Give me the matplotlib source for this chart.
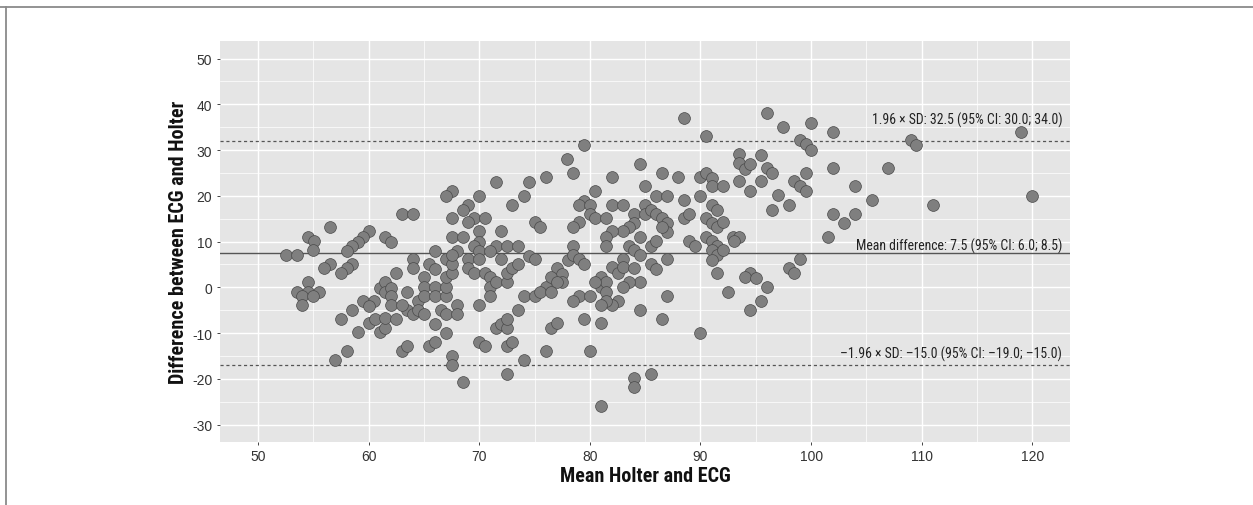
import matplotlib
matplotlib.use("Agg")
import matplotlib.pyplot as plt
from matplotlib import font_manager
from matplotlib.font_manager import FontProperties
from matplotlib.lines import Line2D

plt.rcParams["axes.unicode_minus"] = False

# ---------------- data ----------------
mean_vals = [
    63.0, 64.0, 56.5, 54.5, 55.1, 55.0, 52.5, 53.5, 60.0, 59.5, 59.0, 58.5, 58.0, 61.5, 62.0,
    56.5, 56.0, 58.5, 58.0, 57.5, 62.5, 54.5, 53.5, 54.5, 55.5, 54.0, 55.0, 54.0,
    59.5, 60.5, 60.0, 58.5, 57.5, 59.0, 60.0, 60.6, 61.0, 61.5, 61.5, 62.5, 58.0, 57.0, 63.0, 63.5,
    61.0, 61.5, 61.5, 62.0, 62.0, 62.0, 63.5, 63.5, 63.0, 64.0, 64.0, 64.0, 64.5, 64.5,
    65.0, 65.0, 65.0, 65.0, 65.5, 65.5, 66.0, 66.0, 66.0, 66.0, 66.0, 66.0, 66.5,
    67.0, 67.0, 67.0, 67.0, 67.0, 67.0, 67.5, 67.5, 67.5, 67.5, 68.0, 68.0, 68.5, 68.0,
    69.0, 69.0, 69.5, 70.0, 70.0, 70.5, 70.5, 71.0, 71.0, 71.0, 71.5, 71.5, 72.0, 72.5,
    72.5, 72.5, 73.0, 72.5, 72.5, 72.5, 73.0, 73.5, 74.0, 74.0, 73.5, 74.5, 75.0, 75.0,
    76.0, 76.0, 75.5, 76.5, 67.5,
    77.9, 76.0, 74.5, 71.5, 67.5, 67.0, 70.0, 74.0, 69.0, 68.5, 73.0, 67.5, 69.5, 70.5,
    69.0, 75.0, 75.5, 67.5, 68.5, 70.0, 72.0, 70.0, 69.5, 71.5, 72.5, 73.5, 70.0, 71.0,
    70.0, 72.0, 77.0, 77.5, 77.5, 78.0, 76.5, 77.0, 76.5, 77.0,
    88.5, 90.5, 79.5, 78.5, 84.5, 82.0, 86.5, 88.0, 90.0, 90.5, 91.0, 91.0, 92.0, 85.0,
    80.5, 86.0, 87.0, 90.0, 79.5, 79.0, 80.0, 82.0, 83.0, 85.0, 88.5, 91.0, 91.5, 80.0,
    80.5, 81.5, 84.0, 85.0, 85.5, 86.0, 86.5, 87.0, 87.0, 86.5, 88.5, 89.0, 90.5, 91.0,
    91.5, 92.0, 79.0, 78.5, 84.0, 83.5, 83.0, 82.0, 81.5, 81.5, 84.5, 85.5, 86.0, 83.5,
    84.0, 84.5, 83.0, 87.0, 85.5, 86.0, 82.0, 82.5, 83.0, 84.0, 84.5, 83.5, 83.0, 81.0,
    81.0, 81.5, 80.5, 81.5, 82.5, 82.0, 81.5, 81.0, 84.5, 87.0, 86.5, 90.0, 79.5, 81.0,
    80.0, 79.0, 78.5, 80.0, 85.5, 84.0, 84.0, 81.0, 78.5, 78.5, 79.0, 79.5,
    90.5, 91.0, 91.5, 91.0, 91.5, 92.0, 91.0, 91.5, 89.0, 89.5,
    96.0, 97.5, 100.0, 102.0, 99.0, 99.5, 100.0, 93.5, 95.5, 93.5, 94.0, 94.5, 96.0, 96.5,
    99.5, 102.0, 107.0, 93.5, 95.5, 98.5, 99.0, 99.5, 94.5, 104.0, 97.0, 98.0, 96.5, 105.5,
    102.0, 104.0, 103.0, 101.5, 92.9, 93.5, 93.0, 99.0, 98.0, 98.5, 94.5, 94.0, 95.0,
    92.5, 96.0, 95.5, 94.5,
    109.0, 109.5, 119.0, 120.0, 111.0,
]
diff_vals = [
    16.0, 16.0, 13.1, 11.1, 10.2, 8.1, 7.0, 7.0, 12.2, 11.1, 10.0, 9.0, 8.0, 11.1, 10.0,
    5.2, 4.2, 5.1, 4.2, 3.1, 3.1, 1.1, -1.0, -1.0, -1.0, -1.9, -1.9, -3.9,
    -2.9, -2.9, -4.0, -4.9, -6.9, -9.8, -7.9, -6.9, -9.8, -8.9, -6.8, -6.9, -13.9, -15.8, -13.9, -12.8,
    -0.2, 1.1, -1.1, -0.2, -1.8, -3.9, -1.0, -5.0, -3.9, 6.2, 4.2, -5.9, -2.9, -4.9,
    2.2, 0.0, -1.8, -5.9, 5.1, -12.8, -11.9, -8.0, 0.0, -1.8, 4.0, 8.0, -5.0,
    -10.0, -5.8, -1.8, 0.1, 2.2, 6.2, 3.1, 5.1, -15.0, -16.9, -3.9, -5.9, -20.8, 8.0,
    6.2, 4.2, 3.1, -3.9, -12.0, -12.9, 3.1, 2.2, 0.0, -1.8, 1.1, -8.9, -8.0, -8.9,
    -6.9, -12.8, -11.9, -19.0, 1.1, 3.1, 4.2, -5.0, -15.8, -1.8, 5.1, 6.9, 6.2, -1.8,
    -13.9, 0.0, -1.0, -8.9, 7.0,
    28.0, 24.2, 23.1, 23.1, 21.1, 20.0, 20.0, 20.0, 18.1, 17.0, 18.1, 15.1, 15.1, 15.1,
    14.2, 14.2, 13.1, 11.1, 11.1, 12.2, 12.2, 10.0, 9.0, 9.1, 9.1, 9.1, 8.0, 8.0,
    6.2, 6.2, 4.2, 2.9, 1.2, 5.9, 2.2, 1.2, -1.0, -7.8,
    37.0, 33.1, 31.1, 25.0, 27.0, 24.2, 25.0, 24.2, 24.2, 25.0, 24.0, 22.1, 22.1, 22.1,
    21.0, 20.0, 20.0, 20.0, 18.9, 18.0, 18.0, 18.0, 18.0, 18.0, 19.1, 18.0, 17.0, 16.0,
    15.1, 15.1, 16.0, 16.0, 17.0, 16.0, 15.1, 14.0, 12.0, 13.1, 15.1, 16.0, 15.1, 14.0,
    13.1, 14.2, 14.2, 13.1, 14.0, 13.1, 12.2, 12.2, 11.1, 9.1, 11.1, 9.1, 10.2, 9.1,
    8.2, 7.1, 6.2, 6.2, 5.1, 4.0, 4.4, 3.1, 4.4, 4.2, 1.1, 1.1, 0.0, 2.2,
    0.0, 1.1, 1.1, -1.1, -2.9, -3.9, -2.9, -3.9, -4.9, -2.0, -6.9, -10.0, -6.9, -7.9,
    -13.9, -1.8, -2.9, -2.0, -19.0, -19.9, -21.9, -25.9, 9.1, 7.1, 6.2, 5.1,
    11.1, 10.2, 9.1, 8.2, 7.1, 8.2, 6.0, 3.1, 10.2, 9.1,
    38.0, 35.0, 36.0, 34.0, 32.3, 31.3, 30.1, 29.1, 29.0, 27.1, 25.9, 27.0, 26.1, 24.9,
    25.0, 26.1, 26.1, 23.2, 23.2, 23.2, 22.1, 21.0, 21.1, 22.1, 20.2, 18.1, 17.0, 19.1,
    16.0, 16.0, 14.1, 11.1, 10.9, 11.1, 10.1, 6.2, 4.2, 3.1, 3.1, 2.2, 2.0,
    -1.0, 0.1, -2.9, -4.9,
    32.2, 31.0, 34.0, 20.0, 18.1,
]

mean_diff = 7.4
upper_loa = 32.0
lower_loa = -17.0
label_upper = "1.96 \u00d7 SD: 32.5 (95% CI: 30.0; 34.0)"
label_mean = "Mean difference: 7.5 (95% CI: 6.0; 8.5)"
label_lower = "\u20131.96 \u00d7 SD: \u201315.0 (95% CI: \u201319.0; \u201315.0)"
x_ticks = [50, 60, 70, 80, 90, 100, 110, 120]
y_ticks = [-30, -20, -10, 0, 10, 20, 30, 40, 50]
x_title = "Mean Holter and ECG"
y_title = "Difference between ECG and Holter"

# ---------------- fonts ----------------
ttf = font_manager.fontManager.ttflist


def _is_condensed(f):
    st = f.stretch
    if isinstance(st, str):
        return st in ("condensed", "semi-condensed", "extra-condensed", "ultra-condensed")
    try:
        return int(st) < 500
    except Exception:
        return False


def _weight(f):
    w = f.weight
    if isinstance(w, str):
        return {"bold": 700, "normal": 400, "regular": 400}.get(w, 400)
    return int(w)


cands = [f for f in ttf
         if ("Narrow" in f.name or "Condensed" in f.name or _is_condensed(f))
         and "Mono" not in f.name and "Serif" not in f.name and "CJK" not in f.name
         and f.style == "normal"]
pref = ["Liberation Sans Narrow", "Arial Narrow", "Roboto Condensed", "Noto Sans",
        "Noto Sans Condensed", "Open Sans", "Open Sans Condensed", "DejaVu Sans",
        "DejaVu Sans Condensed"]
cands.sort(key=lambda f: pref.index(f.name) if f.name in pref else 99)


def pick(weight):
    for f in cands:
        if abs(_weight(f) - weight) < 50:
            return FontProperties(fname=f.fname)
    return None


narrow_reg = pick(400)
narrow_bold = pick(700)
have_narrow = narrow_reg is not None and narrow_bold is not None

if have_narrow:
    title_fp = narrow_bold.copy(); title_fp.set_size(14.5)
    ann_fp = narrow_reg.copy(); ann_fp.set_size(9.9)
else:
    title_fp = FontProperties(family=["Liberation Sans", "DejaVu Sans"], weight="bold", size=12.2)
    ann_fp = FontProperties(family=["Liberation Sans", "DejaVu Sans"], size=8.6)
tick_fp = FontProperties(family=["Liberation Sans", "DejaVu Sans"], size=10)

# ---------------- figure ----------------
fig = plt.figure(figsize=(12.53, 5.06), dpi=100)
ax = fig.add_axes([220 / 1253, 1 - 442.7 / 506, 850 / 1253, 400.7 / 506])
ax.set_facecolor("#e5e5e5")
ax.set_xlim(46.56, 123.41)
ax.set_ylim(-33.75, 53.84)

ax.set_xticks(x_ticks)
ax.set_yticks(y_ticks)
ax.set_xticks([55, 65, 75, 85, 95, 105, 115], minor=True)
ax.set_yticks([-25, -15, -5, 5, 15, 25, 35, 45], minor=True)
ax.grid(which="major", color="white", lw=1.0)
ax.grid(which="minor", color="white", lw=0.5)
ax.set_axisbelow(True)
for s in ax.spines.values():
    s.set_visible(False)
ax.tick_params(which="major", length=2.5, width=0.7, color="#444444",
               labelcolor="#333333", pad=3)
ax.tick_params(which="minor", length=0)
for lab in ax.get_xticklabels() + ax.get_yticklabels():
    lab.set_fontproperties(tick_fp)

ax.scatter(mean_vals, diff_vals, s=72, facecolor="#7f7f7f", edgecolor="#4a4a4a",
           linewidths=0.5, zorder=3)

ax.axhline(mean_diff, color="#555555", lw=1.0, zorder=2)
ax.axhline(upper_loa, color="#555555", lw=0.9, ls=(0, (2.5, 2.2)), zorder=2)
ax.axhline(lower_loa, color="#555555", lw=0.9, ls=(0, (2.5, 2.2)), zorder=2)

xt = 122.7
for yv, txt in [(36.8, label_upper), (9.25, label_mean), (-14.4, label_lower)]:
    ax.text(xt, yv, txt, ha="right", va="center", fontproperties=ann_fp,
            color="#222222", zorder=4)

ax.set_xlabel(x_title, fontproperties=title_fp, color="#111111")
ax.xaxis.set_label_coords(0.5, (442.7 - 476.7) / 400.7)
ax.xaxis.label.set_va("center")
ax.set_ylabel(y_title, fontproperties=title_fp, color="#111111")
ax.yaxis.set_label_coords((178 - 220) / 850, 0.5)
ax.yaxis.label.set_va("center")

# outer frame lines (top and left)
fig.add_artist(Line2D([0, 1], [1 - 8 / 506, 1 - 8 / 506], transform=fig.transFigure,
                      color="#8a8a8a", lw=1.3))
fig.add_artist(Line2D([6 / 1253, 6 / 1253], [0, 1 - 8 / 506], transform=fig.transFigure,
                      color="#8a8a8a", lw=1.3))

fig.savefig("out.png", dpi=100, facecolor="white")
